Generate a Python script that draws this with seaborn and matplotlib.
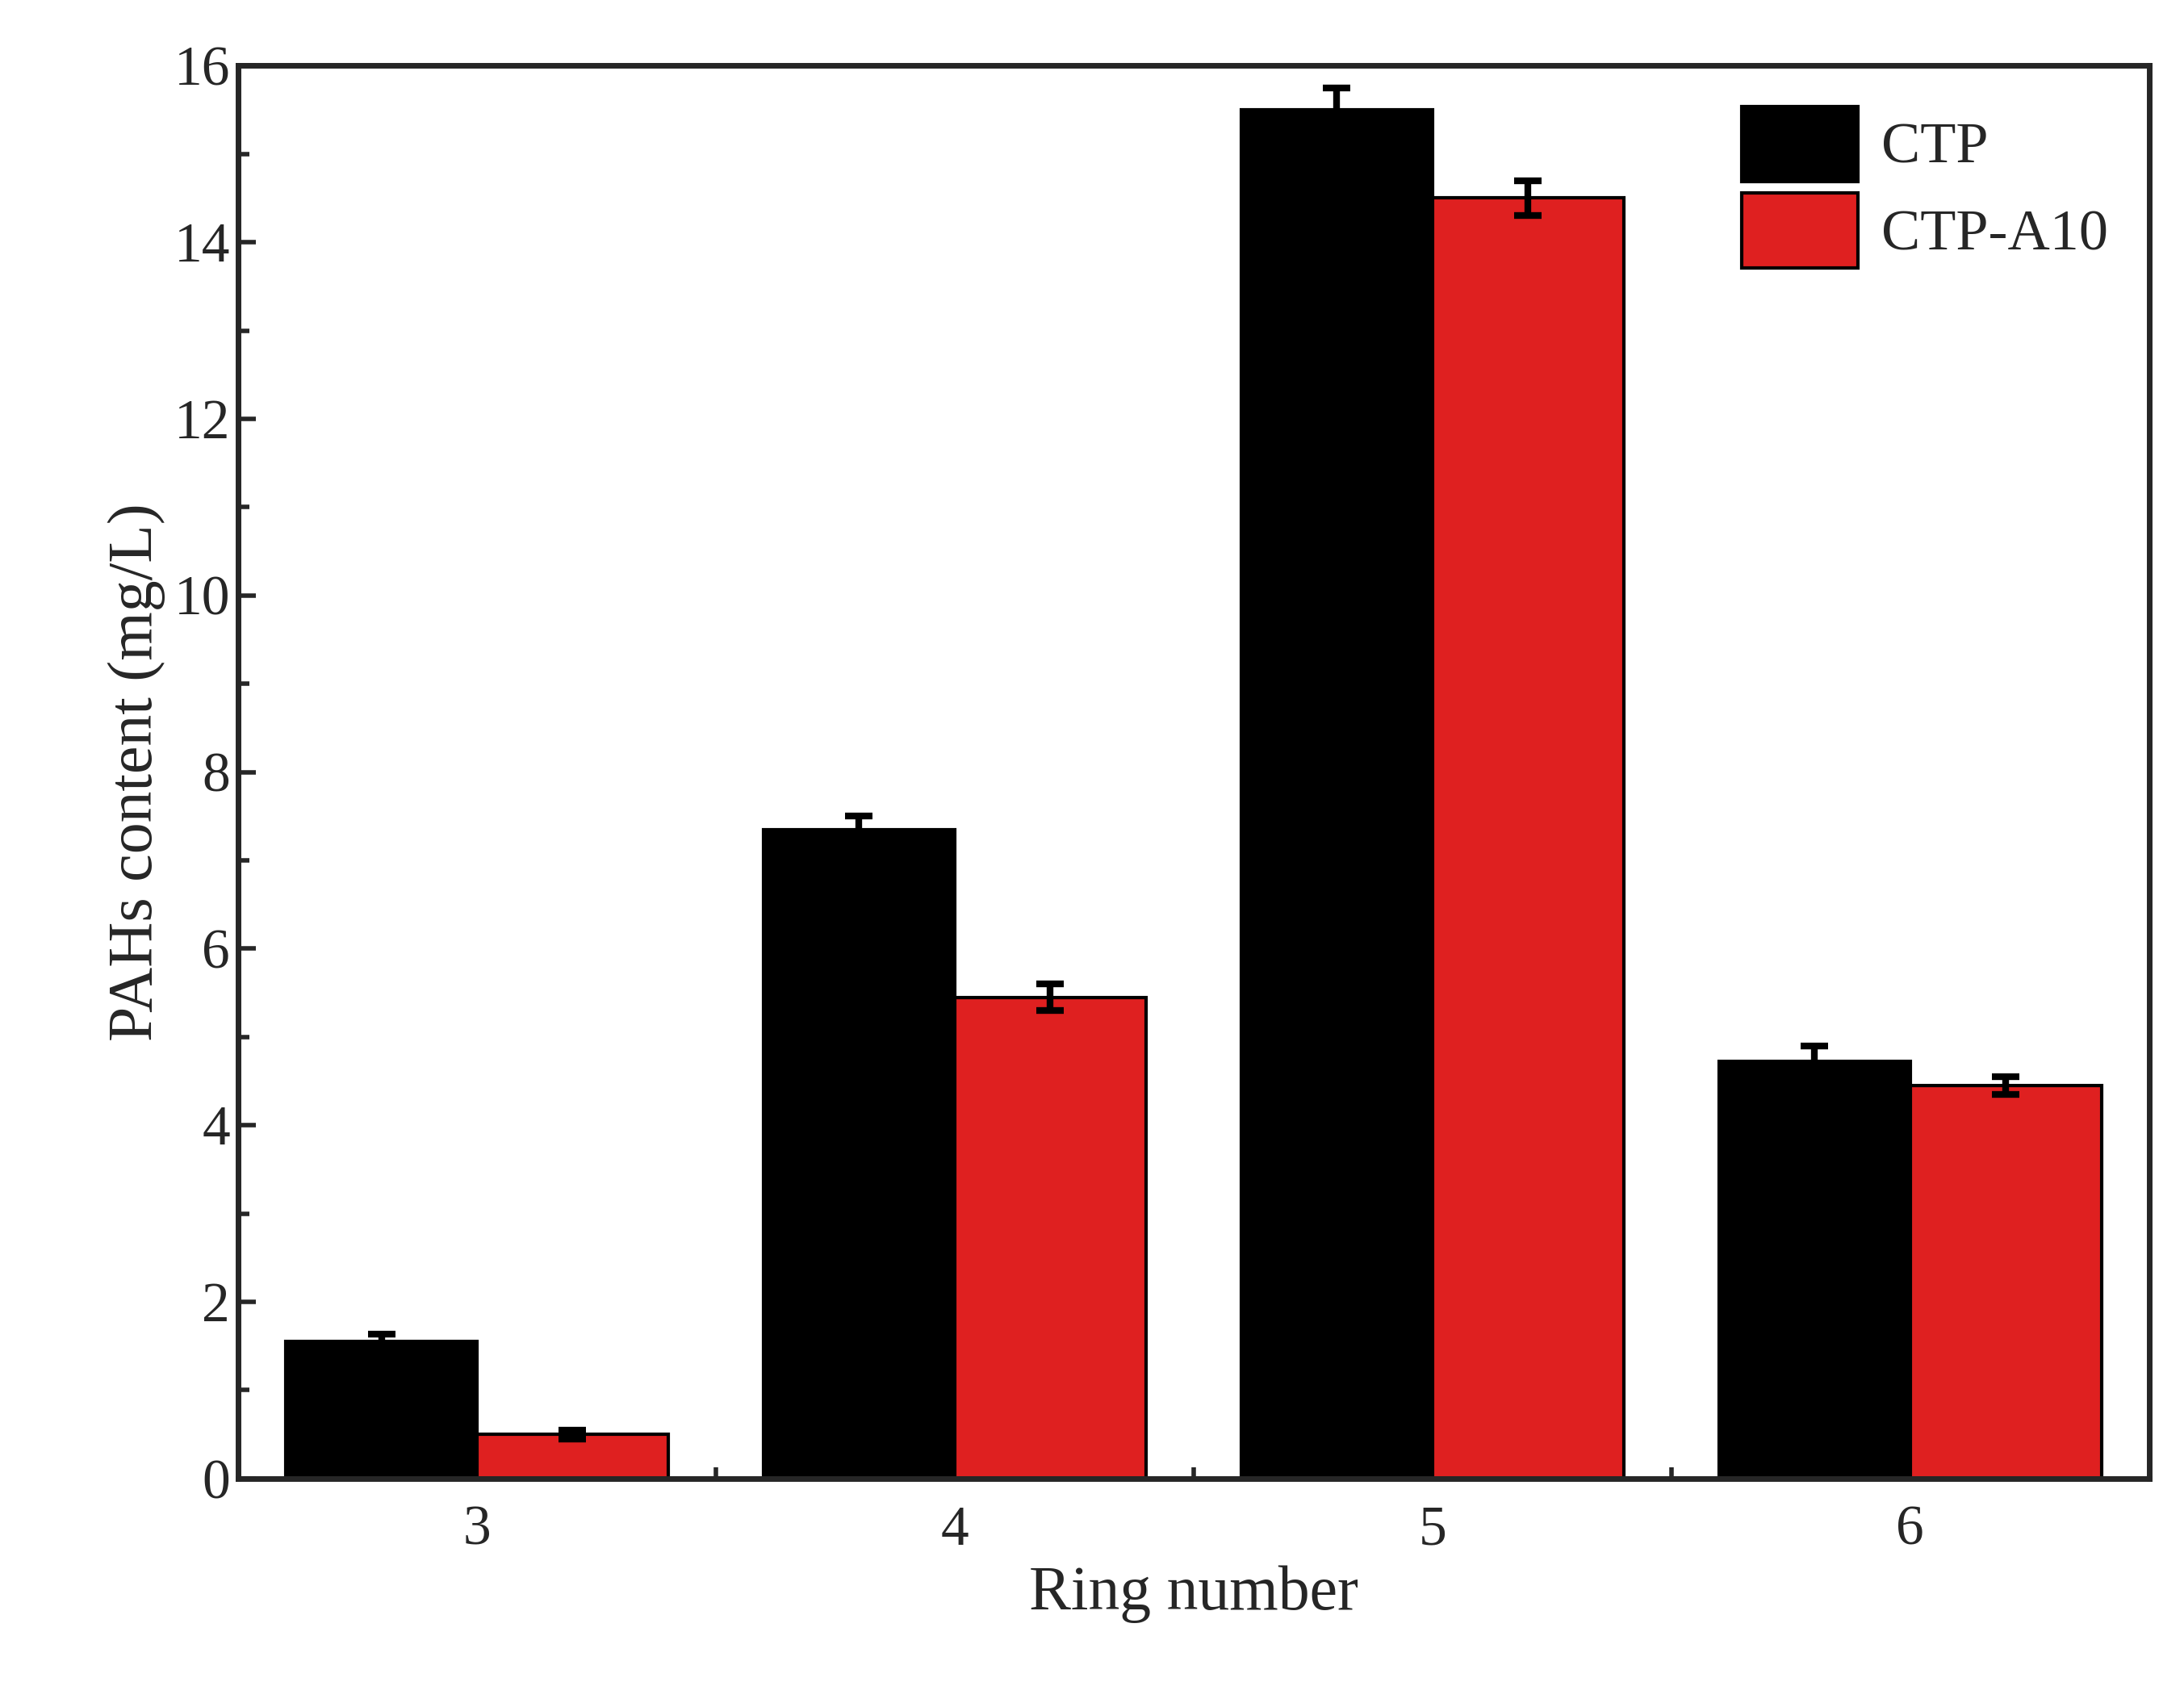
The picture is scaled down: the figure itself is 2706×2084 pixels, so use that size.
import matplotlib
matplotlib.use("Agg")
import matplotlib.pyplot as plt
import seaborn as sns
import pandas as pd
import numpy as np
from matplotlib.ticker import MultipleLocator, FixedLocator

rings = ["3", "4", "5", "6"]
ctp = [1.55, 7.35, 15.5, 4.72]
ctp_err = [0.08, 0.15, 0.25, 0.18]
a10 = [0.50, 5.45, 14.5, 4.45]
a10_err = [0.05, 0.15, 0.20, 0.10]
series = ["CTP", "CTP-A10"]

sns.set_theme(style="ticks")
plt.rcParams['font.family'] = ['Liberation Serif', 'DejaVu Serif']

df = pd.DataFrame({"Ring": rings * 2, "val": ctp + a10,
                   "S": [series[0]] * 4 + [series[1]] * 4})

fig = plt.figure(figsize=(13.53, 10.42), dpi=200)
ax = fig.add_axes([0.109, 0.121, 0.875, 0.84])
sns.barplot(data=df, x="Ring", y="val", hue="S", palette=["black", "#ff0000"],
            width=0.8, edgecolor="black", linewidth=1.5, errorbar=None, ax=ax)
x = np.arange(len(rings))
ax.errorbar(x - 0.2, ctp, yerr=ctp_err, fmt="none", ecolor="black", elinewidth=3, capsize=6, capthick=3)
ax.errorbar(x + 0.2, a10, yerr=a10_err, fmt="none", ecolor="black", elinewidth=3, capsize=6, capthick=3)

ax.set_xlim(-0.5, 3.5)
ax.set_ylim(0, 16)
ax.yaxis.set_major_locator(MultipleLocator(2))
ax.yaxis.set_minor_locator(MultipleLocator(1))
ax.xaxis.set_minor_locator(FixedLocator([0.5, 1.5, 2.5]))
ax.tick_params(which="both", direction="in", width=2, labelsize=25)
ax.tick_params(which="major", length=8)
ax.tick_params(which="minor", length=5)
ax.tick_params(axis="x", which="major", length=0, pad=12)
for s in ax.spines.values():
    s.set_linewidth(2.5)
ax.set_xlabel("Ring number", fontsize=28, labelpad=4)
ax.set_ylabel("PAHs content (mg/L)", fontsize=28)
ax.legend(title=None, loc="upper right", fontsize=26, frameon=False,
          handlelength=2.0, handleheight=1.6, borderaxespad=0.3, handletextpad=0.4,
          labelspacing=0.2)
fig.savefig("out.png", dpi=200)
